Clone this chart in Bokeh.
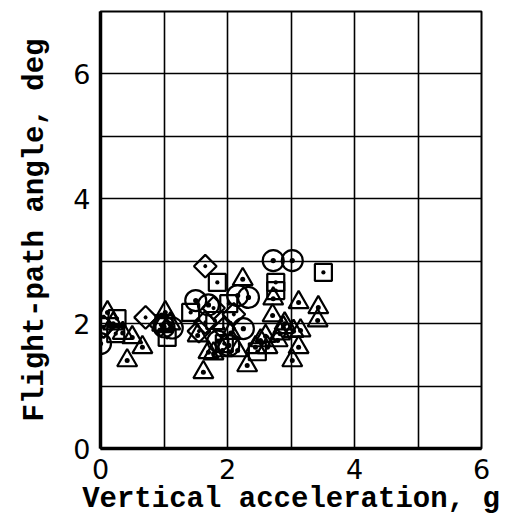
import numpy as np
from bokeh.plotting import figure
from bokeh.models import FixedTicker
from bokeh.embed import file_html
from bokeh.resources import INLINE

# data (vertical acceleration g, flight-path angle deg)
circle_x = [0.0, 0.0, 1.50, 1.70, 2.16, 2.33, 1.13, 1.85, 2.02, 2.25, 2.72, 3.02, 1.00]
circle_y = [1.95, 1.68, 2.37, 2.30, 2.45, 2.42, 1.93, 1.72, 1.65, 1.92, 3.01, 3.01, 1.95]

square_x = [0.26, 0.24, 1.05, 1.00, 1.42, 1.84, 2.02, 1.95, 2.47, 2.76, 2.76, 3.51, 1.80]
square_y = [2.08, 1.84, 1.78, 2.00, 2.18, 2.66, 2.32, 1.68, 1.55, 2.66, 2.53, 2.82, 2.05]

diamond_x = [0.05, 0.71, 0.95, 1.65, 1.65, 1.94, 1.55, 2.10, 1.78]
diamond_y = [1.95, 2.10, 1.98, 2.92, 2.02, 1.92, 1.88, 2.15, 2.25]

tri_x = [0.11, 0.20, 0.35, 0.42, 0.50, 0.66, 1.02, 0.97, 1.10, 1.53, 1.62, 1.70,
         1.78, 1.92, 2.05, 2.16, 2.24, 2.31, 2.44, 2.52, 2.63, 2.71, 2.72, 2.79,
         2.83, 2.88, 3.02, 3.04, 3.12, 3.12, 3.15, 3.42, 3.43, 2.60, 2.90]
tri_y = [2.18, 2.00, 1.85, 1.41, 1.78, 1.62, 2.18, 1.98, 2.00, 1.81, 1.22, 1.54,
         1.52, 1.57, 1.85, 1.57, 2.71, 1.33, 1.62, 1.73, 1.62, 2.13, 2.40, 1.73,
         1.84, 1.94, 1.41, 1.88, 2.34, 1.62, 1.89, 2.05, 2.26, 1.80, 2.00]

x_ticks = [0, 2, 4, 6]
y_ticks = [0, 2, 4, 6]
x_grid = [0, 1, 2, 3, 4, 5, 6]
y_grid = [0, 1, 2, 3, 4, 5, 6, 7]

p = figure(width=505, height=519, x_range=(0, 6), y_range=(0, 7),
           output_backend="svg", toolbar_location=None,
           min_border_left=100, min_border_right=24, min_border_top=11,
           min_border_bottom=71)
p.background_fill_color = "white"
p.border_fill_color = "white"
p.outline_line_color = "black"
p.outline_line_width = 2

p.xaxis.ticker = FixedTicker(ticks=x_ticks)
p.yaxis.ticker = FixedTicker(ticks=y_ticks)
p.xgrid.ticker = FixedTicker(ticks=x_grid)
p.ygrid.ticker = FixedTicker(ticks=y_grid)
for g in (p.xgrid, p.ygrid):
    g.grid_line_color = "black"
    g.grid_line_width = 1.6
    g.grid_line_alpha = 1.0

for ax in (p.xaxis, p.yaxis):
    ax.axis_line_width = 3.5
    ax.axis_line_color = "black"
    ax.major_tick_in = 0
    ax.major_tick_out = 0
    ax.minor_tick_in = 0
    ax.minor_tick_out = 0
    ax.major_label_text_font = "DejaVu Sans"
    ax.major_label_text_font_size = "27px"
    ax.major_label_text_color = "black"
    ax.axis_label_text_font = "Liberation Mono"
    ax.axis_label_text_font_style = "bold"
    ax.axis_label_text_font_size = "29px"
    ax.axis_label_text_color = "black"

p.xaxis.axis_label = "Vertical acceleration, g"
p.yaxis.axis_label = "Flight-path angle, deg"
p.xaxis.major_label_standoff = 10
p.yaxis.major_label_standoff = 10
p.xaxis.axis_label_standoff = 1
p.yaxis.axis_label_standoff = 18
p.yaxis.major_label_orientation = "horizontal"

lw = 2.2
p.scatter(circle_x, circle_y, marker="circle_dot", size=21, fill_color=None,
          line_color="black", line_width=lw)
p.scatter(square_x, square_y, marker="square_dot", size=17, fill_color=None,
          line_color="black", line_width=lw)
p.scatter(diamond_x, diamond_y, marker="square_dot", size=16, angle=np.pi / 4,
          fill_color=None, line_color="black", line_width=lw)
p.scatter(tri_x, tri_y, marker="triangle_dot", size=20, fill_color=None,
          line_color="black", line_width=lw)

open("out.html", "w").write(file_html(p, INLINE))
